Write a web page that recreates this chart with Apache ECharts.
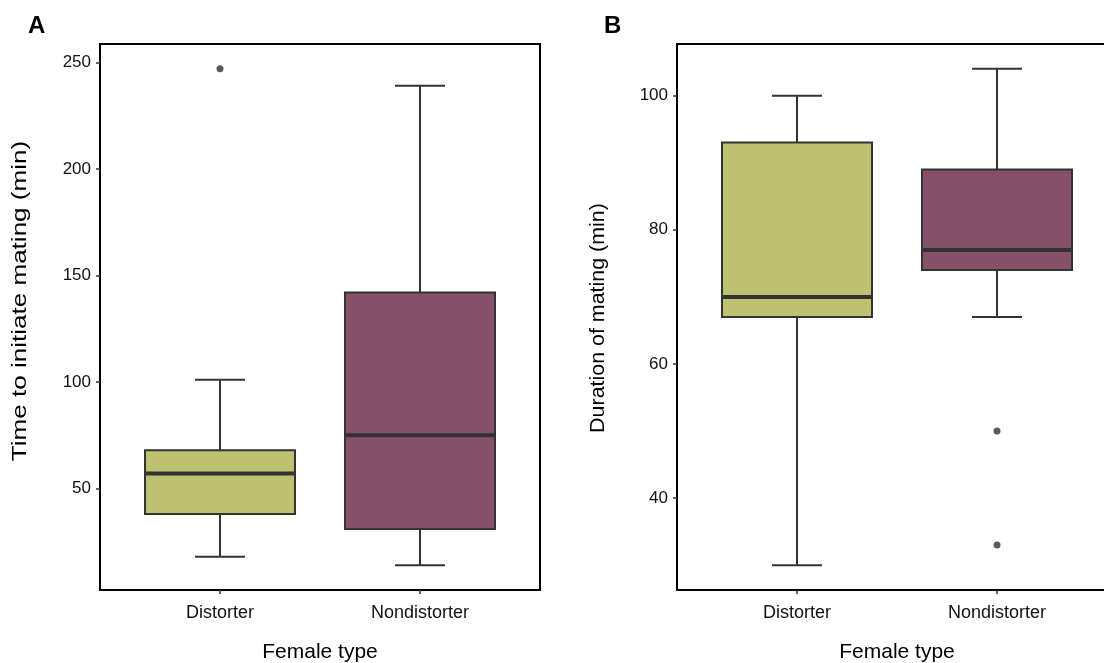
<!DOCTYPE html>
<html>
<head>
<meta charset="utf-8">
<script src="https://cdn.jsdelivr.net/npm/echarts@6/dist/echarts.min.js"></script>
<style>html,body{margin:0;padding:0;background:#fff}#c{width:1104px;height:663px}</style>
</head>
<body>
<div id="c"></div>
<script>
// ---- data ----
const categories = ['Distorter', 'Nondistorter'];
const fillColors = ['#bec270', '#865168'];
// [lower whisker, Q1, median, Q3, upper whisker]
const timeStats = [[18, 38, 57, 68, 101], [14, 31, 75, 142, 239]];
const timeOutliers = [[247], []];
const durationStats = [[30, 67, 70, 93, 100], [67, 74, 77, 89, 104]];
const durationOutliers = [[], [50, 33]];
const timeTicks = [50, 100, 150, 200, 250];
const durationTicks = [40, 60, 80, 100];
const panelLabels = ['A', 'B'];
const yTitles = ['Time to initiate mating (min)', 'Duration of mating (min)'];
const xTitle = 'Female type';

const FONT = 'Liberation Sans, Arial, Helvetica, sans-serif';

function boxData(stats) {
  return stats.map((s, i) => ({ value: [i + 1].concat(s) }));
}
function outlierData(outs) {
  const d = [];
  outs.forEach((arr, i) => arr.forEach(v => d.push([i + 1, v])));
  return d;
}
function renderBox(params, api) {
  const x = api.value(0);
  const lo = api.value(1), q1 = api.value(2), med = api.value(3), q3 = api.value(4), hi = api.value(5);
  const half = 0.375, cap = 0.125;
  const fill = fillColors[params.dataIndex];
  const tl = api.coord([x - half, q3]);
  const br = api.coord([x + half, q1]);
  const pc = api.coord([x, med]);
  const pLo = api.coord([x, lo]);
  const pHi = api.coord([x, hi]);
  const capL = api.coord([x - cap, lo])[0];
  const capR = api.coord([x + cap, lo])[0];
  const ls = { stroke: '#333333', lineWidth: 2 };
  return {
    type: 'group',
    children: [
      { type: 'line', shape: { x1: pLo[0], y1: pLo[1], x2: pHi[0], y2: pHi[1] }, style: ls },
      { type: 'line', shape: { x1: capL, y1: pLo[1], x2: capR, y2: pLo[1] }, style: ls },
      { type: 'line', shape: { x1: capL, y1: pHi[1], x2: capR, y2: pHi[1] }, style: ls },
      { type: 'rect', shape: { x: tl[0], y: tl[1], width: br[0] - tl[0], height: br[1] - tl[1] },
        style: { fill: fill, stroke: '#333333', lineWidth: 2 } },
      { type: 'line', shape: { x1: tl[0], y1: pc[1], x2: br[0], y2: pc[1] },
        style: { stroke: '#333333', lineWidth: 4 } }
    ]
  };
}

function xAxisCfg(gi) {
  return {
    type: 'value', gridIndex: gi, min: 0.4, max: 2.6,
    name: xTitle, nameLocation: 'middle', nameGap: 52,
    nameTextStyle: { fontFamily: FONT, fontSize: 21, color: '#000' },
    axisLine: { show: false },
    splitLine: { show: false },
    axisTick: { show: true, length: 4, lineStyle: { color: '#333', width: 1.5 }, customValues: [1, 2] },
    axisLabel: { fontFamily: FONT, fontSize: 18, color: '#111', margin: 14,
      customValues: [1, 2], formatter: v => categories[Math.round(v) - 1] || '' }
  };
}
function yAxisCfg(gi, min, max, ticks) {
  return {
    type: 'value', gridIndex: gi, min: min, max: max,
    axisLine: { show: false },
    splitLine: { show: false },
    axisTick: { show: true, length: 4, lineStyle: { color: '#333', width: 1.5 }, customValues: ticks },
    axisLabel: { fontFamily: FONT, fontSize: 17, color: '#111', margin: 9, customValues: ticks }
  };
}

const gridBase = { top: 44, width: 440, height: 546, show: true, borderColor: '#000', borderWidth: 2,
  backgroundColor: 'transparent', containLabel: false, outerBoundsMode: 'none' };

const chart = echarts.init(document.getElementById('c'), null, { renderer: 'canvas' });
chart.setOption({
  animation: false,
  backgroundColor: '#fff',
  grid: [
    Object.assign({ left: 100 }, gridBase),
    Object.assign({ left: 677 }, gridBase)
  ],
  xAxis: [xAxisCfg(0), xAxisCfg(1)],
  yAxis: [
    yAxisCfg(0, 2.35, 258.65, timeTicks),
    yAxisCfg(1, 26.3, 107.7, durationTicks)
  ],
  graphic: [
    { type: 'text', x: 28, y: 26, style: { text: panelLabels[0], font: 'bold 24px ' + FONT, fill: '#000', textAlign: 'left', textVerticalAlign: 'middle' } },
    { type: 'text', x: 604, y: 26, style: { text: panelLabels[1], font: 'bold 24px ' + FONT, fill: '#000', textAlign: 'left', textVerticalAlign: 'middle' } },
    { type: 'text', x: 20, y: 301, rotation: Math.PI / 2, scaleX: 1.24,
      style: { text: yTitles[0], font: '21px ' + FONT, fill: '#000', textAlign: 'center', textVerticalAlign: 'middle' } },
    { type: 'text', x: 598, y: 318, rotation: Math.PI / 2, scaleX: 1.02,
      style: { text: yTitles[1], font: '21px ' + FONT, fill: '#000', textAlign: 'center', textVerticalAlign: 'middle' } }
  ],
  series: [
    { type: 'custom', xAxisIndex: 0, yAxisIndex: 0, renderItem: renderBox, data: boxData(timeStats), encode: { x: 0, y: [1, 2, 3, 4, 5] } },
    { type: 'scatter', xAxisIndex: 0, yAxisIndex: 0, data: outlierData(timeOutliers), symbolSize: 7, itemStyle: { color: '#333' } },
    { type: 'custom', xAxisIndex: 1, yAxisIndex: 1, renderItem: renderBox, data: boxData(durationStats), encode: { x: 0, y: [1, 2, 3, 4, 5] } },
    { type: 'scatter', xAxisIndex: 1, yAxisIndex: 1, data: outlierData(durationOutliers), symbolSize: 7, itemStyle: { color: '#333' } }
  ]
});
</script>
</body>
</html>
